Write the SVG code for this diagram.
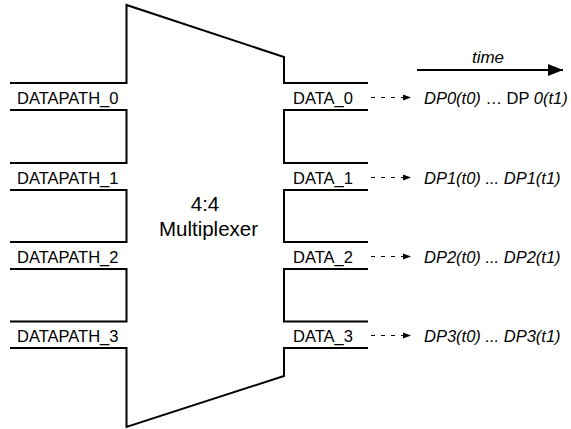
<svg xmlns="http://www.w3.org/2000/svg" width="571" height="429" viewBox="0 0 571 429">
<defs>
<style>
.ln{fill:none;stroke:#000;stroke-width:2;stroke-linejoin:miter}
.lbl{font-family:"Liberation Sans",Arial,Helvetica,sans-serif;font-size:16.5px;fill:#000}
.it{font-style:italic}
.up{font-style:normal}
.big{font-family:"Liberation Sans",Arial,Helvetica,sans-serif;font-size:20.5px;fill:#000;text-anchor:middle}
.dash{fill:none;stroke:#000;stroke-width:1.2;stroke-dasharray:4,6}
</style>
<marker id="sm" markerWidth="9" markerHeight="8" refX="8" refY="4" orient="auto" markerUnits="userSpaceOnUse">
<path d="M0,1 L8,4 L0,7 Z" fill="#000"/>
</marker>
<marker id="big" markerWidth="16" markerHeight="14" refX="15" refY="7" orient="auto" markerUnits="userSpaceOnUse">
<path d="M0,1 L15,7 L0,13 Z" fill="#000"/>
</marker>
</defs>
<rect width="571" height="429" fill="#fff"/>
<g id="mux">
<path class="ln" d="M10,83 H126.5 V5 L284,57 V83 H368"/>
<path class="ln" d="M10,110 H126.5 V163 H10"/>
<path class="ln" d="M10,190 H126.5 V242 H10"/>
<path class="ln" d="M10,269 H126.5 V321.5 H10"/>
<path class="ln" d="M10,348 H126.5 V427 L284,376 V348 H368"/>
<path class="ln" d="M368,110 H284 V163 H368"/>
<path class="ln" d="M368,190 H284 V242 H368"/>
<path class="ln" d="M368,269 H284 V321.5 H368"/>
<text class="big" x="205" y="211">4:4</text>
<text class="big" x="208.5" y="236">Multiplexer</text>
</g>
<g id="inputs">
<text class="lbl" x="17" y="104">DATAPATH_0</text>
<text class="lbl" x="17" y="184">DATAPATH_1</text>
<text class="lbl" x="17" y="263">DATAPATH_2</text>
<text class="lbl" x="17" y="342">DATAPATH_3</text>
</g>
<g id="outputs">
<text class="lbl" x="293" y="104">DATA_0</text>
<text class="lbl" x="293" y="184">DATA_1</text>
<text class="lbl" x="293" y="263">DATA_2</text>
<text class="lbl" x="293" y="342">DATA_3</text>
</g>
<g id="connectors">
<line class="dash" x1="371" y1="97.5" x2="411" y2="97.5" marker-end="url(#sm)"/>
<line class="dash" x1="371" y1="177.5" x2="411" y2="177.5" marker-end="url(#sm)"/>
<line class="dash" x1="371" y1="256.5" x2="411" y2="256.5" marker-end="url(#sm)"/>
<line class="dash" x1="371" y1="335.5" x2="411" y2="335.5" marker-end="url(#sm)"/>
<line x1="417" y1="70" x2="563" y2="70" stroke="#000" stroke-width="2" marker-end="url(#big)"/>
</g>
<g id="timeline">
<text class="lbl it" x="488" y="63" text-anchor="middle" style="font-size:17px">time</text>
<text class="lbl it" x="424" y="104">DP0(t0) <tspan class="up">… DP </tspan>0(t1)</text>
<text class="lbl it" x="424" y="184">DP1(t0) ... DP1(t1)</text>
<text class="lbl it" x="424" y="263">DP2(t0) ... DP2(t1)</text>
<text class="lbl it" x="424" y="342">DP3(t0) ... DP3(t1)</text>
</g>
</svg>
